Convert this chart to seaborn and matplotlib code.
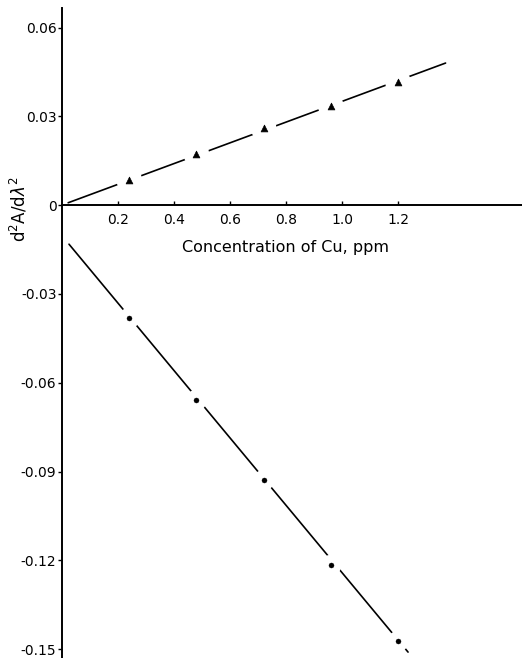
import matplotlib
matplotlib.use("Agg")
import matplotlib.pyplot as plt
import seaborn as sns

# ---- data ----
cu_ppm = [0.24, 0.48, 0.72, 0.96, 1.20]
triangle_vals = [0.0085, 0.0172, 0.0260, 0.0335, 0.0416]
dot_vals = [-0.0382, -0.0659, -0.0930, -0.1217, -0.1474]

tri_line_x = [0.022, 1.37]
tri_line_y = [0.0008, 0.0480]
dot_line_x = [0.025, 1.236]
dot_line_y = [-0.0132, -0.1510]

x_ticks = [0.2, 0.4, 0.6, 0.8, 1.0, 1.2]
x_tick_labels = ["0.2", "0.4", "0.6", "0.8", "1.0", "1.2"]
y_ticks = [0.06, 0.03, 0.0, -0.03, -0.06, -0.09, -0.12, -0.15]
y_tick_labels = ["0.06", "0.03", "0", "-0.03", "-0.06", "-0.09", "-0.12", "-0.15"]

sns.set_theme(style="white")
plt.rcParams["font.family"] = ["DejaVu Sans"]
plt.rcParams["axes.unicode_minus"] = False

fig = plt.figure(figsize=(5.22, 6.58), dpi=100)
ax = fig.add_axes([62 / 522, 0.0, 460 / 522, 650 / 658])

# lines
sns.lineplot(x=tri_line_x, y=tri_line_y, ax=ax, color="black", linewidth=1.2,
             estimator=None, sort=False, zorder=2)
sns.lineplot(x=dot_line_x, y=dot_line_y, ax=ax, color="black", linewidth=1.2,
             estimator=None, sort=False, zorder=2)

# white gaps around markers
sns.scatterplot(x=cu_ppm, y=triangle_vals, ax=ax, marker="o", s=340,
                color="white", edgecolor="none", zorder=3)
sns.scatterplot(x=cu_ppm, y=dot_vals, ax=ax, marker="o", s=230,
                color="white", edgecolor="none", zorder=3)

# markers
sns.scatterplot(x=cu_ppm, y=triangle_vals, ax=ax, marker="^", s=24,
                color="black", edgecolor="black", linewidth=0.5, zorder=4)
sns.scatterplot(x=cu_ppm, y=dot_vals, ax=ax, marker="o", s=13,
                color="black", edgecolor="black", linewidth=0.3, zorder=4)

ax.set_xlim(0.0, 1.643)
ax.set_ylim(-0.1530, 0.0666)

ax.spines["top"].set_visible(False)
ax.spines["right"].set_visible(False)
ax.spines["bottom"].set_position(("data", 0.0))
for s in ("left", "bottom"):
    ax.spines[s].set_color("black")
    ax.spines[s].set_linewidth(1.4)

ax.set_xticks(x_ticks)
ax.set_xticklabels(x_tick_labels)
ax.set_yticks(y_ticks)
ax.set_yticklabels(y_tick_labels)

ax.tick_params(axis="x", direction="in", length=3, width=1.0, pad=6,
               labelsize=10, colors="black", bottom=True)
ax.tick_params(axis="y", direction="out", length=3, width=1.0, pad=1,
               labelsize=10, colors="black", left=True)

ax.set_xlabel("Concentration of Cu, ppm", fontsize=11.5, color="black")
ax.xaxis.label.set_va("center")
ax.xaxis.set_label_coords(0.485, 0.632)

ax.set_ylabel(r"d$^2$A/d$\lambda^2$", fontsize=12, color="black")
ax.yaxis.label.set_va("center")
ax.yaxis.set_label_coords(-0.094, 0.690)

fig.savefig("out.png", dpi=100)
